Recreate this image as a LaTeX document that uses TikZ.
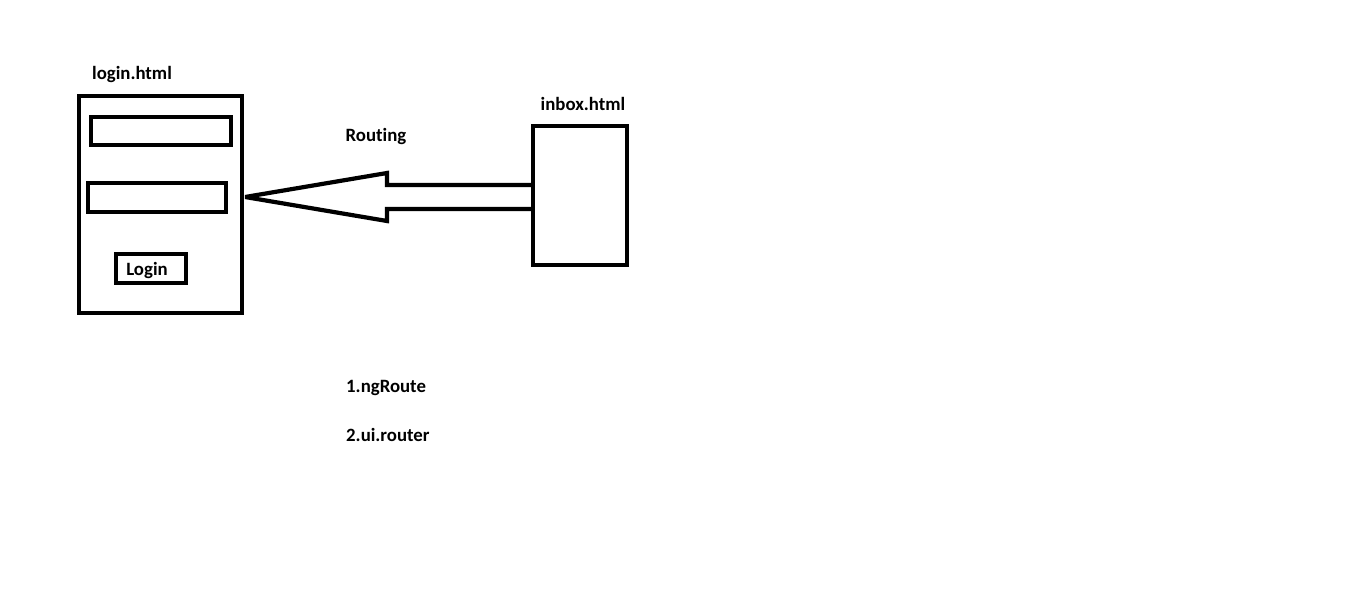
\documentclass[tikz,border=0pt]{standalone}
\usepackage{fontspec}
\setmainfont{Carlito}[Ligatures={NoCommon}]
\begin{document}
\begin{tikzpicture}[x=1pt,y=-1pt,
  box/.style={draw=black,line width=4.2pt,inner sep=0pt,fill=none},
  lbl/.style={font=\bfseries\fontsize{18.8}{22}\selectfont,inner sep=0pt,text=black},
  bigarrow/.style={draw=black,line width=4.2pt,line join=miter,miter limit=4}]
\useasboundingbox (0,0) rectangle (1360,597);
% login page
\node[box,minimum width=163pt,minimum height=217pt] (login) at (160.5,204.5) {};
\node[box,minimum width=140pt,minimum height=28pt] (field1) at (161,131) {};
\node[box,minimum width=138pt,minimum height=29pt] (field2) at (157,197.5) {};
\node[box,minimum width=70pt,minimum height=29pt] (btn) at (151,268.5) {};
\node[lbl] (btntext) at (147,270.5) {Login};
\node[lbl] (logintitle) at (132,74) {login.html};
% inbox page
\node[box,minimum width=94pt,minimum height=139pt] (inbox) at (580,195.5) {};
\node[lbl] (inboxtitle) at (583,104) {inbox.html};
% routing arrow
\coordinate (tip) at ([xshift=1pt]login.east |- 0,197);
\coordinate (st) at (inbox.west |- 0,185);
\coordinate (sb) at (inbox.west |- 0,209);
\draw[bigarrow] (st) -- (387,185) -- (387,173) -- (tip) -- (387,221) -- (387,209) -- (sb);
\node[lbl] (routing) at (376,136) {Routing};
% list
\node[lbl,anchor=west] (item1) at (346,388) {1.ngRoute};
\node[lbl,anchor=west] (item2) at (346,435) {2.ui.router};
\end{tikzpicture}
\end{document}
